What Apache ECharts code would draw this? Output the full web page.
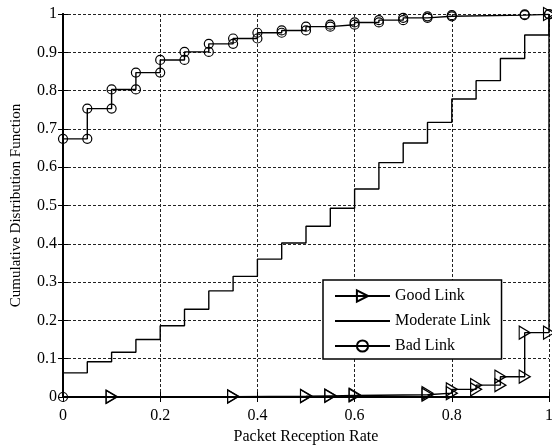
<!DOCTYPE html>
<html>
<head>
<meta charset="utf-8">
<script src="https://cdn.jsdelivr.net/npm/echarts@6/dist/echarts.min.js"></script>
<style>
  html, body { margin: 0; padding: 0; background: #fff; }
  #chart { width: 552px; height: 445px; }
</style>
</head>
<body>
<div id="chart"></div>
<script>
// Empirical CDFs of packet reception rate for three link classes.
// Each list holds the distinct reception rates and the CDF value reached there.
const goodX = [0.1, 0.35, 0.5, 0.55, 0.6, 0.75, 0.8, 0.85, 0.9, 0.95, 1];
const goodF = [0.001, 0.002, 0.003, 0.004, 0.006, 0.010, 0.020, 0.031, 0.053, 0.168, 1];

const moderateX = [0, 0.05, 0.1, 0.15, 0.2, 0.25, 0.3, 0.35, 0.4, 0.45, 0.5,
                   0.55, 0.6, 0.65, 0.7, 0.75, 0.8, 0.85, 0.9, 0.95, 1];
const moderateF = [0.063, 0.092, 0.117, 0.150, 0.186, 0.229, 0.277, 0.315, 0.360, 0.402, 0.446,
                   0.493, 0.543, 0.612, 0.663, 0.717, 0.778, 0.826, 0.884, 0.945, 1];

const badX = [0, 0.05, 0.1, 0.15, 0.2, 0.25, 0.3, 0.35, 0.4, 0.45,
              0.5, 0.55, 0.6, 0.65, 0.7, 0.75, 0.8, 0.95, 1];
const badF = [0.674, 0.753, 0.803, 0.847, 0.880, 0.901, 0.922, 0.936, 0.951, 0.957,
              0.967, 0.972, 0.978, 0.984, 0.990, 0.994, 0.997, 0.999, 1];

const xTicks = [0, 0.2, 0.4, 0.6, 0.8, 1];
const yTicks = [0, 0.1, 0.2, 0.3, 0.4, 0.5, 0.6, 0.7, 0.8, 0.9, 1];

// Expand (x, F) into staircase vertices, starting from F = 0 at the first x,
// so every corner of the staircase carries a marker.
function stairs(xs, fs) {
  const pts = [[xs[0], 0]];
  for (let i = 0; i < xs.length; i++) {
    if (i > 0) pts.push([xs[i], fs[i - 1]]);
    pts.push([xs[i], fs[i]]);
  }
  return pts;
}

const FONT = '"Liberation Serif", "Times New Roman", serif';
const chart = echarts.init(document.getElementById('chart'), null, { renderer: 'canvas' });

const gridDash = { color: '#222', width: 1, type: [3, 2] };
const tickIn = { show: true, inside: true, length: 5, lineStyle: { color: '#000', width: 1 } };
const axisLine = { show: true, lineStyle: { color: '#000', width: 2 } };

chart.setOption({
  animation: false,
  backgroundColor: '#fff',
  grid: { left: 63, right: 3, top: 14, bottom: 48, containLabel: false, outerBoundsMode: 'none' },
  xAxis: [{
    type: 'value', min: xTicks[0], max: xTicks[xTicks.length - 1], interval: 0.2,
    name: 'Packet Reception Rate', nameLocation: 'middle', nameGap: 31,
    nameTextStyle: { fontFamily: FONT, fontSize: 16, color: '#000' },
    axisLine, axisTick: tickIn,
    axisLabel: { fontFamily: FONT, fontSize: 16, color: '#000', margin: 11 },
    splitLine: { show: true, lineStyle: gridDash }
  }, {
    type: 'value', position: 'top', min: 0, max: 1, interval: 0.2,
    axisLine, axisTick: tickIn, axisLabel: { show: false }, splitLine: { show: false }
  }],
  yAxis: [{
    type: 'value', min: yTicks[0], max: yTicks[yTicks.length - 1], interval: 0.1,
    name: 'Cumulative Distribution Function', nameLocation: 'middle', nameGap: 39,
    nameTextStyle: { fontFamily: FONT, fontSize: 15, color: '#000' },
    axisLine, axisTick: tickIn,
    axisLabel: { fontFamily: FONT, fontSize: 16, color: '#000', margin: 6 },
    splitLine: { show: true, lineStyle: gridDash }
  }, {
    type: 'value', position: 'right', min: 0, max: 1, interval: 0.1,
    axisLine, axisTick: tickIn, axisLabel: { show: false }, splitLine: { show: false }
  }],
  legend: {
    orient: 'vertical', left: 323, top: 280,
    backgroundColor: '#fff', borderColor: '#000', borderWidth: 1.5,
    padding: [8, 11, 5, 11], itemGap: 9, itemWidth: 55, itemHeight: 14,
    textStyle: { fontFamily: FONT, fontSize: 16, color: '#000' },
    data: ['Good Link', 'Moderate Link', 'Bad Link']
  },
  series: [{
    name: 'Good Link', type: 'line', data: stairs(goodX, goodF),
    symbol: 'path://M0,0L10,6L0,12Z', symbolSize: [11, 13], symbolKeepAspect: false,
    showAllSymbol: true, clip: false,
    lineStyle: { color: '#000', width: 1.4 },
    itemStyle: { color: 'rgba(0,0,0,0)', borderColor: '#000', borderWidth: 1.2 },
    z: 3
  }, {
    // plain staircase: markers are zero-sized and transparent
    name: 'Moderate Link', type: 'line', data: stairs(moderateX, moderateF),
    symbol: 'circle', symbolSize: 0, showSymbol: false,
    lineStyle: { color: '#000', width: 1.4 },
    itemStyle: { color: 'rgba(0,0,0,0)', borderColor: 'rgba(0,0,0,0)', borderWidth: 0 },
    z: 2
  }, {
    name: 'Bad Link', type: 'line', data: stairs(badX, badF),
    symbol: 'circle', symbolSize: 9, showAllSymbol: true, clip: false,
    lineStyle: { color: '#000', width: 1.4 },
    itemStyle: { color: 'rgba(0,0,0,0)', borderColor: '#000', borderWidth: 1.2 },
    z: 2
  }]
});
</script>
</body>
</html>
